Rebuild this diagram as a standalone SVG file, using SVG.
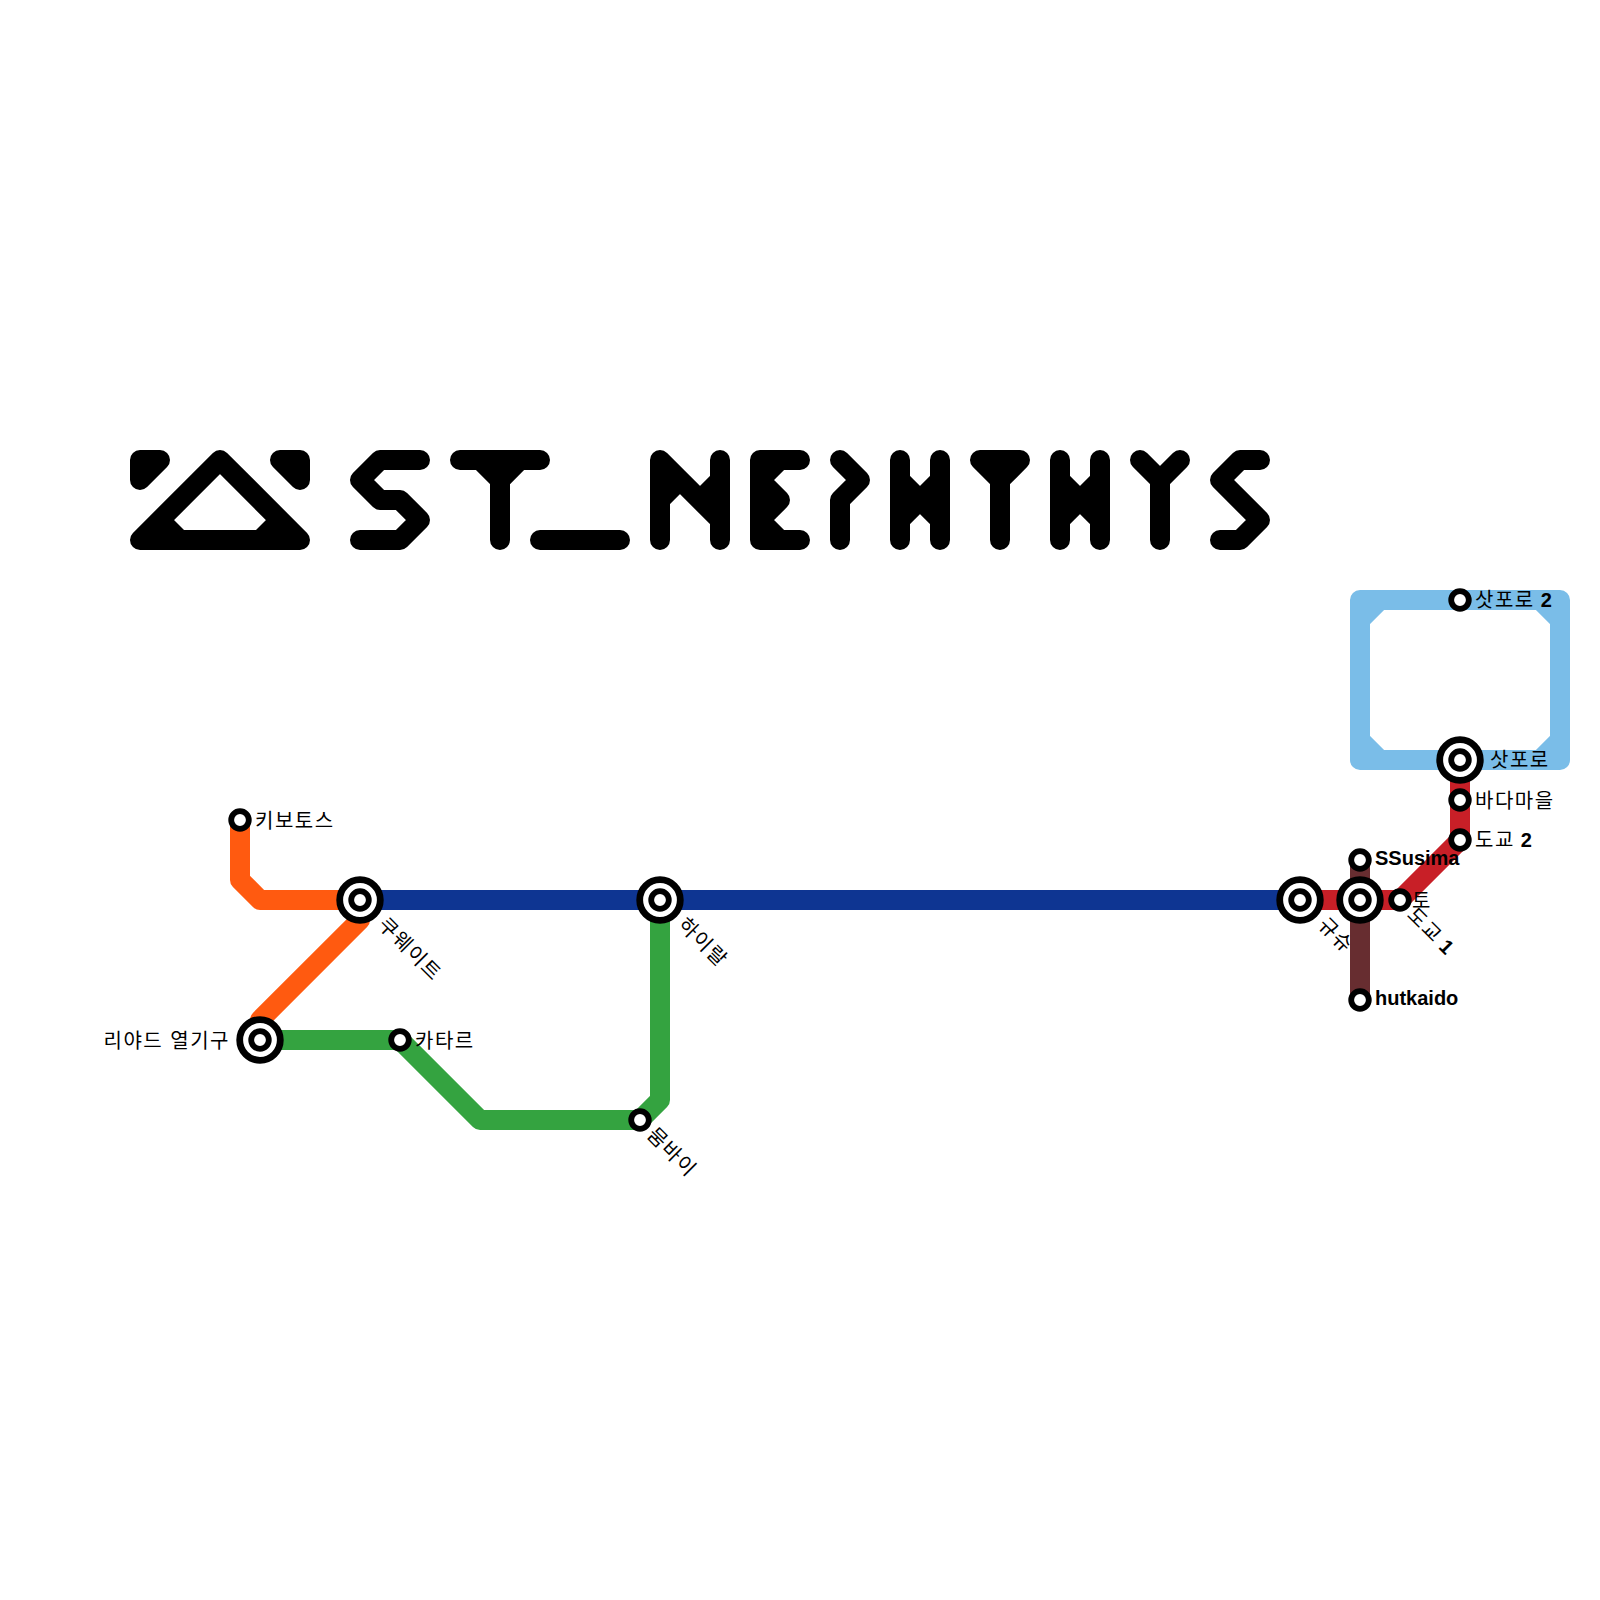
<svg xmlns="http://www.w3.org/2000/svg" width="1600" height="1600" viewBox="0 0 1600 1600">
<style>
.line{fill:none;stroke-width:20;stroke-linejoin:round;stroke-linecap:butt}
.logo path{fill:none;stroke:#000;stroke-width:20;stroke-linejoin:round;stroke-linecap:round}
.logo path.f{fill:#000;stroke:none}
.ring{fill:#fff;stroke:#000}
.o{stroke-width:6.8}
.i{stroke-width:5.8}
text{font-family:"Liberation Sans","Noto Sans CJK KR",sans-serif;font-size:20px;fill:#000;letter-spacing:1.5px}
.b{font-weight:700;letter-spacing:0}
</style>
<defs>
<g id="small"><circle class="ring i" r="8.8"/></g>
<g id="big"><circle class="ring o" r="20.3"/><circle class="ring i" r="8.8"/></g>
</defs>
<g id="logo" class="logo">
<path d="M140 540L220 460L300 540Z"/><path class="f" d="M184 530L165 511L150 540H184ZM256 530L275 511L290 540H256Z"/>
<path d="M140 460H160L140 480Z"/><path d="M280 460H300V480Z"/>
<path d="M420 460H380L360 480L380 500H400L420 520L400 540H360"/>
<path d="M460 460H540M480 460L500 480L520 460M500 480V540"/>
<path d="M540 540H620"/>
<path d="M660 540V460L720 520M720 460V540M660 500L680 480M720 480L700 500"/>
<path d="M800 460H760V540H800M780 460L760 480L780 500L760 520L780 540"/>
<path d="M840 460L860 480L840 500V540"/>
<path d="M900 460V540M940 460V540M900 480L920 500L940 480M900 520L920 500L940 520"/>
<path d="M980 460H1020L1000 480ZM1000 480V540"/>
<path d="M1060 460V540M1100 460V540M1060 480L1080 500L1100 480M1060 520L1080 500L1100 520"/>
<path d="M1140 460L1160 480L1180 460M1160 480V540"/>
<path d="M1260 460H1240L1220 480L1260 520L1240 540H1220"/>
</g>
<g id="connectors">
<path class="line" stroke="#7abde8" d="M1360 600H1560V760H1360ZM1360 620L1380 600M1540 600L1560 620M1360 740L1380 760M1560 740L1540 760"/>
<path class="line" stroke="#c81f27" d="M1300 900H1400L1460 840V760"/>
<path class="line" stroke="#672d30" d="M1360 860V1000"/>
<path class="line" stroke="#34a340" d="M260 1040H400L480 1120H640L660 1100V900"/>
<path class="line" stroke="#ff5a10" d="M240 820V880L260 900H360M360 900V920L260 1020V1040"/>
<path class="line" stroke="#0e3592" d="M360 900H1300"/>
</g>
<g id="st-kibotos"><use href="#small" x="240" y="820"/><text x="255" y="828">키보토스</text></g>
<g id="st-kuwait"><use href="#big" x="360" y="900"/><text transform="translate(377 926) rotate(45)">쿠웨이트</text></g>
<g id="st-riyadh"><use href="#big" x="260" y="1040"/><text x="230" y="1048" text-anchor="end">리야드 열기구</text></g>
<g id="st-qatar"><use href="#small" x="400" y="1040"/><text x="415" y="1048">카타르</text></g>
<g id="st-hyrule"><use href="#big" x="660" y="900"/><text transform="translate(677 926) rotate(45)">하이랄</text></g>
<g id="st-mumbai"><use href="#small" x="640" y="1120"/><text transform="translate(646 1136) rotate(45)">뭄바이</text></g>
<g id="st-kyushu"><use href="#big" x="1300" y="900"/><text transform="translate(1317 926) rotate(45)">규슈</text></g>
<g id="st-tokyo1"><use href="#big" x="1360" y="900"/><text transform="translate(1406 916) rotate(45)">도교 <tspan class="b" dx="-2">1</tspan></text></g>
<g id="st-to"><use href="#small" x="1400" y="900"/><text x="1412" y="908">토</text></g>
<g id="st-tokyo2"><use href="#small" x="1460" y="840"/><text x="1475" y="847">도교 <tspan class="b" dx="-1">2</tspan></text></g>
<g id="st-bada"><use href="#small" x="1460" y="800"/><text x="1475" y="808">바다마을</text></g>
<g id="st-sapporo"><use href="#big" x="1460" y="760"/><text x="1490" y="767">삿포로</text></g>
<g id="st-sapporo2"><use href="#small" x="1460" y="600"/><text x="1475" y="607">삿포로 <tspan class="b" dx="-1">2</tspan></text></g>
<g id="st-ssusima"><use href="#small" x="1360" y="860"/><text class="b" x="1375" y="865">SSusima</text></g>
<g id="st-hutkaido"><use href="#small" x="1360" y="1000"/><text class="b" x="1375" y="1005">hutkaido</text></g>
</svg>
